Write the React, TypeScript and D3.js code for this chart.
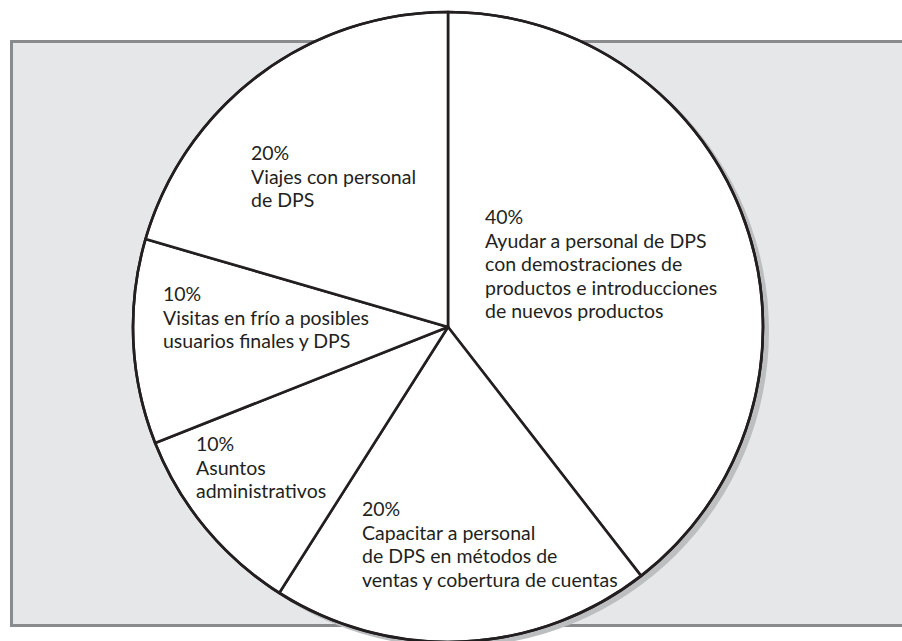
import React from "react";
import * as d3 from "d3";

// slice shares as drawn (clockwise from 12 o'clock), with their printed labels
const shares = [39.5, 19.5, 10, 10.5, 20.5];
const pctLabels = ["40%", "20%", "10%", "10%", "20%"];
const descLines = [
  ["Ayudar a personal de DPS", "con demostraciones de", "productos e introducciones", "de nuevos productos"],
  ["Capacitar a personal", "de DPS en métodos de", "ventas y cobertura de cuentas"],
  ["Asuntos", "administrativos"],
  ["Visitas en frío a posibles", "usuarios finales y DPS"],
  ["Viajes con personal", "de DPS"],
];

const W = 902;
const H = 641;
const cx = 448;
const cy = 327;
const R = 315;
const lineGap = 23.5;
// where each label block starts, relative to the pie centre
const labelPos = [
  { dx: 37, dy: -103 },
  { dx: -86, dy: 189 },
  { dx: -252, dy: 124 },
  { dx: -285, dy: -26 },
  { dx: -197, dy: -167 },
];

const ink = "#231f20";

export default function App() {
  const pie = d3.pie<number>().sort(null).value((d) => d);
  const arcs = pie(shares);
  const arc = d3.arc<d3.PieArcDatum<number>>().innerRadius(0).outerRadius(R);

  return (
    <svg
      width={W}
      height={H}
      style={{ position: "absolute", left: 0, top: 0, display: "block" }}
      fontFamily="Lato, 'Open Sans', sans-serif"
    >
      <rect x={0} y={0} width={W} height={H} fill="#ffffff" />
      {/* grey panel */}
      <rect x={10} y={40} width={W - 10} height={587} fill="#e6e7e8" />
      <path d={`M${W},41.5 H11.5 V625.5 H${W}`} fill="none" stroke="#8a8b8d" strokeWidth={3} />

      <g transform={`translate(${cx},${cy})`}>
        {/* drop shadow */}
        <circle cx={5} cy={4} r={R + 1} fill="#bcbec0" />
        {arcs.map((a, i) => (
          <path key={i} d={arc(a) ?? ""} fill="#ffffff" stroke={ink} strokeWidth={2.6} strokeLinejoin="round" />
        ))}
        <circle r={R} fill="none" stroke={ink} strokeWidth={2.6} />

        {arcs.map((a, i) => (
          <text key={"t" + i} fill={ink} fontSize={19.5}>
            {[pctLabels[i], ...descLines[i]].map((s, j) => (
              <tspan key={j} x={labelPos[i].dx} y={labelPos[i].dy + j * lineGap}>
                {s}
              </tspan>
            ))}
          </text>
        ))}
      </g>
    </svg>
  );
}
